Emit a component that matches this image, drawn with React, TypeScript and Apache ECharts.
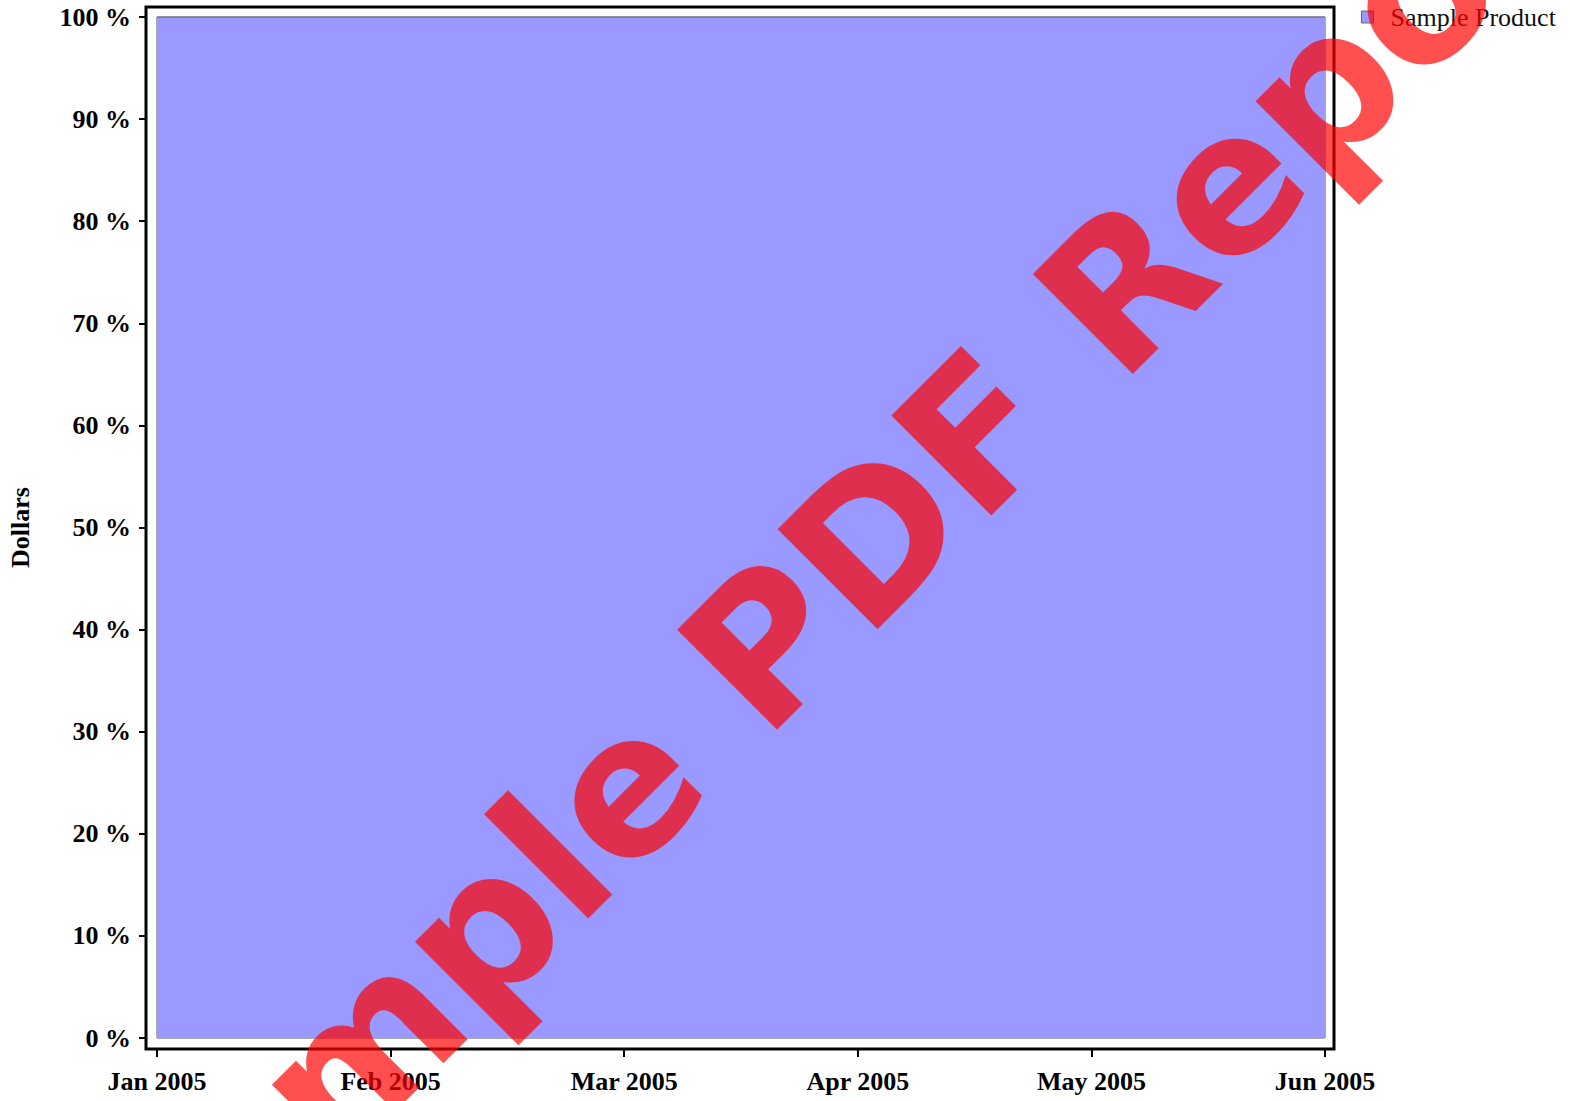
import React, { useEffect, useRef } from "react";
import * as echarts from "echarts";

const months = ["Jan 2005", "Feb 2005", "Mar 2005", "Apr 2005", "May 2005", "Jun 2005"];
const sampleProductShare = [100, 100, 100, 100, 100, 100];
const seriesName = "Sample Product";
const yAxisTitle = "Dollars";
const watermarkText = "Sample PDF Report";

export default function App() {
  const ref = useRef<HTMLDivElement>(null);
  useEffect(() => {
    if (!ref.current) return;
    const chart = echarts.init(ref.current, null, { renderer: "svg" });
    const serif = '"Liberation Serif", "Times New Roman", serif';
    chart.setOption({
      animation: false,
      backgroundColor: "#ffffff",
      grid: {
        left: 157,
        right: 245,
        top: 17,
        bottom: 63,
        outerBoundsMode: "none",
        containLabel: false,
        show: true,
        borderColor: "#55556a",
        borderWidth: 1,
        backgroundColor: "transparent",
      },
      legend: {
        show: true,
        left: 1356,
        top: -1,
        icon: "rect",
        itemWidth: 12,
        itemHeight: 12,
        itemStyle: { borderColor: "#666", borderWidth: 1 },
        textStyle: {
          fontFamily: serif,
          fontSize: 26,
          color: "#111",
          padding: [0, 0, 0, 12],
        },
        data: [seriesName],
      },
      xAxis: {
        type: "category",
        data: months,
        boundaryGap: false,
        position: "bottom",
        offset: 11,
        axisLine: { show: false, onZero: false },
        axisTick: { show: true, inside: false, length: 8, lineStyle: { color: "#000", width: 2 } },
        axisLabel: {
          margin: 19,
          fontFamily: serif,
          fontWeight: "bold",
          fontSize: 26,
          color: "#000",
        },
        splitLine: { show: false },
      },
      yAxis: {
        type: "value",
        min: 0,
        max: 100,
        interval: 10,
        offset: 11,
        name: yAxisTitle,
        nameLocation: "middle",
        nameGap: 113,
        nameRotate: 90,
        nameTextStyle: {
          fontFamily: serif,
          fontWeight: "bold",
          fontSize: 26,
          color: "#000",
        },
        axisLine: { show: false, onZero: false },
        axisTick: { show: true, length: 7, lineStyle: { color: "#000", width: 2 } },
        axisLabel: {
          margin: 15,
          formatter: "{value} %",
          fontFamily: serif,
          fontWeight: "bold",
          fontSize: 26,
          color: "#000",
        },
        splitLine: { show: false },
      },
      series: [
        {
          name: seriesName,
          type: "line",
          stack: "total",
          data: sampleProductShare,
          symbol: "none",
          color: "#9999ff",
          lineStyle: { color: "#55556a", width: 1 },
          areaStyle: { color: "#9999ff", opacity: 1 },
          itemStyle: { color: "#9999ff" },
        },
      ],
      graphic: [
        {
          type: "rect",
          z: 50,
          silent: true,
          shape: { x: 146, y: 7, width: 1188, height: 1042 },
          style: { fill: "none", stroke: "#000", lineWidth: 3 },
        },
        {
          type: "text",
          z: 100,
          silent: true,
          x: 847,
          y: 565,
          rotation: Math.PI / 4,
          style: {
            text: watermarkText,
            fill: "rgba(255,0,0,0.69)",
            font: 'bold 194px "DejaVu Sans"',
            align: "center",
            verticalAlign: "middle",
          },
        },
      ],
    });
    return () => chart.dispose();
  }, []);
  return (
    <div
      ref={ref}
      style={{ position: "fixed", left: 0, top: 0, width: 1570, height: 1101 }}
    />
  );
}
